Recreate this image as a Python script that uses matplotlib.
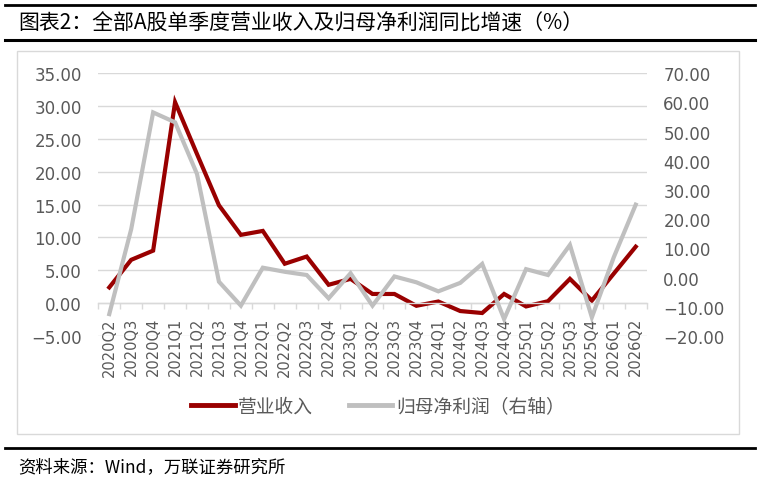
import matplotlib
matplotlib.use("Agg")
import matplotlib.pyplot as plt
from matplotlib.lines import Line2D
from matplotlib.patches import Rectangle

plt.rcParams['font.family'] = ['Noto Sans CJK SC', 'DejaVu Sans']

# ── données ───────────────────────────────────────────────────────────────────
quarters = ["2020Q2", "2020Q3", "2020Q4",
            "2021Q1", "2021Q2", "2021Q3", "2021Q4",
            "2022Q1", "2022Q2", "2022Q3", "2022Q4",
            "2023Q1", "2023Q2", "2023Q3", "2023Q4",
            "2024Q1", "2024Q2", "2024Q3", "2024Q4",
            "2025Q1", "2025Q2", "2025Q3", "2025Q4",
            "2026Q1", "2026Q2"]
revenue = [2.4, 6.6, 8.0, 30.6, 22.7, 14.9, 10.4, 11.0, 6.0, 7.1, 2.8, 3.7,
           1.4, 1.4, -0.4, 0.25, -1.2, -1.5, 1.4, -0.5, 0.3, 3.7, 0.4, 4.5, 8.6]
net_profit = [-12.5, 16.6, 56.6, 53.2, 35.5, -1.4, -9.6, 3.4, 2.0, 0.9, -7.1, 1.5,
              -9.6, 0.4, -1.6, -4.7, -1.8, 4.7, -14.2, 2.9, 0.9, 11.2, -13.6, 7.0, 25.0]
left_ticks = [-5, 0, 5, 10, 15, 20, 25, 30, 35]
right_ticks = [-20, -10, 0, 10, 20, 30, 40, 50, 60, 70]

RED = "#990000"
GRAY = "#BFBFBF"
GRID = "#D9D9D9"
TXT = "#595959"

W, H = 761, 481
fig = plt.figure(figsize=(W / 100, H / 100), dpi=100)


def fx(px):
    return px / W


def fy(py):
    return 1 - py / H


# ── cadre, titre et source ────────────────────────────────────────────────────
fig.add_artist(Line2D([fx(5), fx(755)], [fy(6), fy(6)], color="black", lw=2.0,
                      transform=fig.transFigure))
fig.add_artist(Line2D([fx(5), fx(755)], [fy(40.5), fy(40.5)], color="black", lw=2.2,
                      transform=fig.transFigure))
fig.add_artist(Line2D([fx(5), fx(755)], [fy(449), fy(449)], color="black", lw=2.0,
                      transform=fig.transFigure))
fig.add_artist(Rectangle((fx(16.7), fy(435)), fx(739) - fx(16.7), fy(52) - fy(435),
                         transform=fig.transFigure, fill=False, edgecolor=GRID, lw=1))

fig.text(fx(18), fy(24), "图表2：全部A股单季度营业收入及归母净利润同比增速（%）",
         fontsize=15, va="center", ha="left", color="black")
fig.text(fx(18), fy(467), "资料来源：Wind，万联证券研究所",
         fontsize=12.5, va="center", ha="left", color="black")

# ── axes ──────────────────────────────────────────────────────────────────────
ax = fig.add_axes([fx(98.3), fy(337), fx(646.7) - fx(98.3), fy(74.3) - fy(337)])
ax2 = ax.twinx()

# l'axe des x croise à 0 (à faire avant de styliser les ticks)
for s in ["top", "left", "right"]:
    ax.spines[s].set_visible(False)
for s in ax2.spines.values():
    s.set_visible(False)
ax.spines["bottom"].set_position(("data", 0))
ax.spines["bottom"].set_color(GRID)
ax.spines["bottom"].set_linewidth(1)

x = list(range(len(quarters)))
ax.plot(x, revenue, color=RED, lw=3, solid_joinstyle="miter", label="营业收入")
ax2.plot(x, net_profit, color=GRAY, lw=3, solid_joinstyle="miter", label="归母净利润（右轴）")

ax.set_xlim(-0.5, len(quarters) - 0.5)
ax.set_ylim(-5, 35)
ax2.set_ylim(-20, 70)

ax.set_yticks(left_ticks)
ax.set_yticklabels([f"{v:.2f}".replace("-", "\u2212") for v in left_ticks],
                   family="DejaVu Sans", fontsize=12, color=TXT)
ax2.set_yticks(right_ticks)
ax2.set_yticklabels([f"{v:.2f}".replace("-", "\u2212") for v in right_ticks],
                    family="DejaVu Sans", fontsize=12, color=TXT)
ax.tick_params(axis="y", length=0, pad=12)
ax2.tick_params(axis="y", length=0, pad=12)

ax.set_xticks(x)
ax.set_xticklabels(quarters, rotation=90, family="DejaVu Sans", fontsize=10.5, color=TXT)
ax.set_xticks([i - 0.5 for i in range(len(quarters) + 1)], minor=True)
ax.tick_params(axis="x", which="major", length=0, pad=10)
ax.tick_params(axis="x", which="minor", length=4, width=1, color=GRID, direction="out")

ax.yaxis.grid(True, color=GRID, lw=1)
ax.set_axisbelow(True)

# ── légende ───────────────────────────────────────────────────────────────────
handles = [Line2D([], [], color=RED, lw=3.5), Line2D([], [], color=GRAY, lw=3.5)]
fig.legend(handles, ["营业收入", "归母净利润（右轴）"], loc="center",
           bbox_to_anchor=(fx(378), fy(407)), ncol=2, frameon=False,
           fontsize=13.5, labelcolor=TXT, handlelength=2.3, handletextpad=0.2,
           columnspacing=1.9)

fig.savefig("out.png", dpi=100)
